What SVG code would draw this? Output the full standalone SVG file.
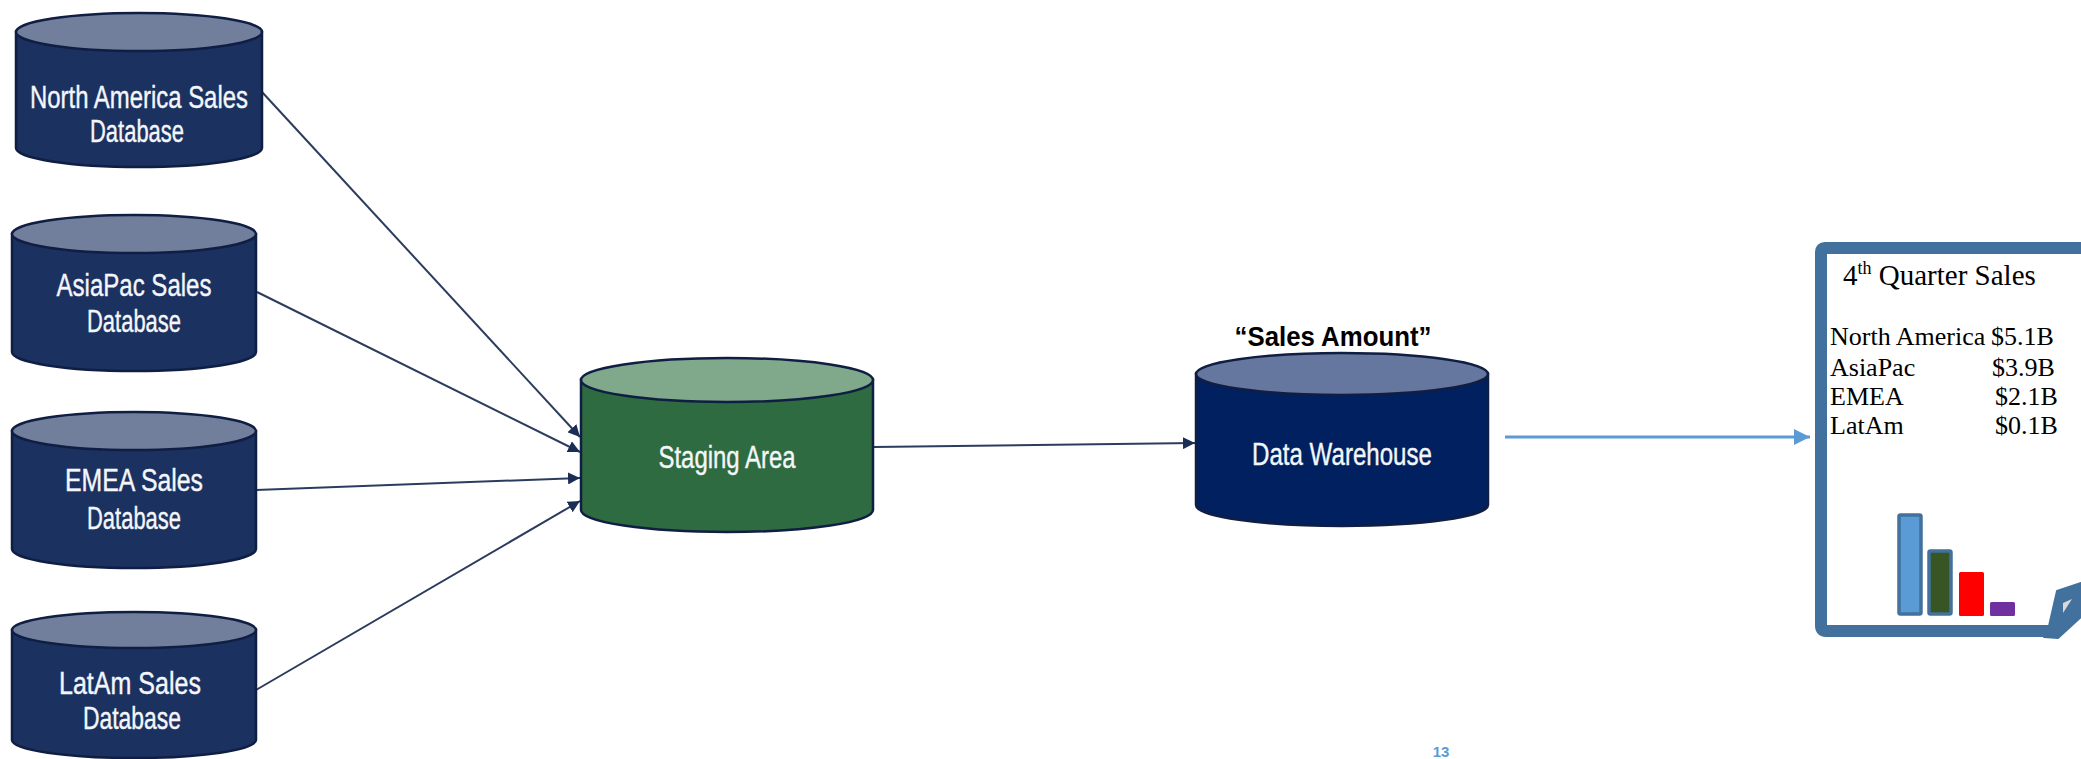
<svg xmlns="http://www.w3.org/2000/svg" width="2081" height="759" viewBox="0 0 2081 759">
  <style>
    .body-src { fill: #1b3160; stroke: #0f1e42; stroke-width: 2.5; }
    .top-src { fill: #717f9d; stroke: #0f1e42; stroke-width: 2.5; }
    .body-stg { fill: #2e6b40; stroke: #0f1e42; stroke-width: 2.5; }
    .top-stg { fill: #80a88b; stroke: #0f1e42; stroke-width: 2.5; }
    .body-dw { fill: #00205f; stroke: #0f1e42; stroke-width: 2.5; }
    .top-dw { fill: #65779f; stroke: #0f1e42; stroke-width: 2.5; }
    .lbl { font-family: "Liberation Sans Narrow", "Liberation Sans", sans-serif; font-size: 31px; fill: #f4f6fa; stroke: #f4f6fa; stroke-width: 0.4; text-anchor: middle; }
    .flow { stroke: #2c3c5e; stroke-width: 2; fill: none; marker-end: url(#navyArrow); }
    .rpt { font-family: "Liberation Serif", serif; font-size: 26px; fill: #000000; }
  </style>
  <defs>
    <marker id="navyArrow" markerUnits="userSpaceOnUse" markerWidth="12" markerHeight="12" viewBox="0 0 12 12" refX="12" refY="6" orient="auto">
      <path d="M0,0 L12,6 L0,12 Z" fill="#1b2c55"/>
    </marker>
    <marker id="blueArrow" markerUnits="userSpaceOnUse" markerWidth="16" markerHeight="16" viewBox="0 0 16 16" refX="16" refY="8" orient="auto">
      <path d="M0,0 L16,8 L0,16 Z" fill="#5b9bd5"/>
    </marker>
  </defs>

  <rect width="2081" height="759" fill="#ffffff"/>

  <!-- connectors -->
  <g id="connectors">
    <line class="flow" x1="262" y1="92" x2="580" y2="437"/>
    <line class="flow" x1="257" y1="292" x2="580" y2="452"/>
    <line class="flow" x1="256" y1="490" x2="580" y2="478"/>
    <line class="flow" x1="256" y1="690" x2="580" y2="501"/>
    <line class="flow" x1="874" y1="447" x2="1195" y2="443"/>
    <line x1="1505" y1="437" x2="1810" y2="437" stroke="#5b9bd5" stroke-width="3" marker-end="url(#blueArrow)"/>
  </g>

  <!-- source databases -->
  <g id="north-america-db">
    <path class="body-src" d="M16,32 V148 A123,19 0 0 0 262,148 V32 Z"/>
    <ellipse class="top-src" cx="139" cy="32" rx="123" ry="19"/>
    <text class="lbl" x="139" y="108" textLength="218" lengthAdjust="spacingAndGlyphs">North America Sales</text>
    <text class="lbl" x="137" y="142" textLength="94" lengthAdjust="spacingAndGlyphs">Database</text>
  </g>

  <g id="asiapac-db">
    <path class="body-src" d="M12,234 V352 A122,19 0 0 0 256,352 V234 Z"/>
    <ellipse class="top-src" cx="134" cy="234" rx="122" ry="19"/>
    <text class="lbl" x="134" y="296" textLength="155" lengthAdjust="spacingAndGlyphs">AsiaPac Sales</text>
    <text class="lbl" x="134" y="332" textLength="94" lengthAdjust="spacingAndGlyphs">Database</text>
  </g>

  <g id="emea-db">
    <path class="body-src" d="M12,431 V549 A122,19 0 0 0 256,549 V431 Z"/>
    <ellipse class="top-src" cx="134" cy="431" rx="122" ry="19"/>
    <text class="lbl" x="134" y="491" textLength="138" lengthAdjust="spacingAndGlyphs">EMEA Sales</text>
    <text class="lbl" x="134" y="529" textLength="94" lengthAdjust="spacingAndGlyphs">Database</text>
  </g>

  <g id="latam-db">
    <path class="body-src" d="M12,630 V740 A122,18 0 0 0 256,740 V630 Z"/>
    <ellipse class="top-src" cx="134" cy="630" rx="122" ry="18"/>
    <text class="lbl" x="130" y="694" textLength="142" lengthAdjust="spacingAndGlyphs">LatAm Sales</text>
    <text class="lbl" x="132" y="729" textLength="98" lengthAdjust="spacingAndGlyphs">Database</text>
  </g>

  <!-- staging -->
  <g id="staging-area">
    <path class="body-stg" d="M581,380 V510 A146,22 0 0 0 873,510 V380 Z"/>
    <ellipse class="top-stg" cx="727" cy="380" rx="146" ry="22"/>
    <text class="lbl" x="727" y="468" textLength="137" lengthAdjust="spacingAndGlyphs">Staging Area</text>
  </g>

  <!-- warehouse -->
  <g id="data-warehouse">
    <text x="1333" y="346" font-family="Liberation Sans Narrow, Liberation Sans, sans-serif" font-size="27" font-weight="bold" fill="#000000" text-anchor="middle" textLength="197" lengthAdjust="spacingAndGlyphs">“Sales Amount”</text>
    <path class="body-dw" d="M1196,374 V505 A146,21 0 0 0 1488,505 V374 Z"/>
    <ellipse class="top-dw" cx="1342" cy="374" rx="146" ry="21"/>
    <text class="lbl" x="1342" y="465" textLength="180" lengthAdjust="spacingAndGlyphs">Data Warehouse</text>
  </g>

  <!-- report sheet -->
  <g id="quarter-report">
    <path d="M2095,248 H1825 Q1821,248 1821,252 V626 Q1821,631 1826,631 H2050" fill="#ffffff" stroke="#41719c" stroke-width="12" stroke-linejoin="round"/>
    <path d="M2057,591 L2081,583 L2081,617 L2058,638 L2044,637 L2049,626 Z" fill="#41719c" stroke="#41719c" stroke-width="2" stroke-linejoin="round"/>
    <path d="M2063,603 L2072,599 L2063,613 Z" fill="#d9d9d9"/>

    <text x="1843" y="285" font-family="Liberation Serif, serif" font-size="29" fill="#000000">4<tspan font-size="18" dy="-11">th</tspan><tspan dy="11"> Quarter Sales</tspan></text>

    <text class="rpt" x="1830" y="345">North America</text>
    <text class="rpt" x="1991" y="345">$5.1B</text>
    <text class="rpt" x="1830" y="376">AsiaPac</text>
    <text class="rpt" x="1992" y="376">$3.9B</text>
    <text class="rpt" x="1830" y="405">EMEA</text>
    <text class="rpt" x="1995" y="405">$2.1B</text>
    <text class="rpt" x="1830" y="434">LatAm</text>
    <text class="rpt" x="1995" y="434">$0.1B</text>

    <rect x="1899" y="515" width="22" height="99" rx="1.5" fill="#5b9bd5" stroke="#41719c" stroke-width="3.5"/>
    <rect x="1929" y="551" width="22" height="63" rx="1.5" fill="#375623" stroke="#41719c" stroke-width="3.5"/>
    <rect x="1959" y="572" width="25" height="44" rx="1.5" fill="#ff0000"/>
    <rect x="1990" y="602" width="25" height="14" rx="1.5" fill="#7030a0"/>
  </g>

  <text x="1441" y="757" font-family="Liberation Sans, sans-serif" font-size="15" font-weight="bold" fill="#5b9bd5" text-anchor="middle">13</text>
</svg>
